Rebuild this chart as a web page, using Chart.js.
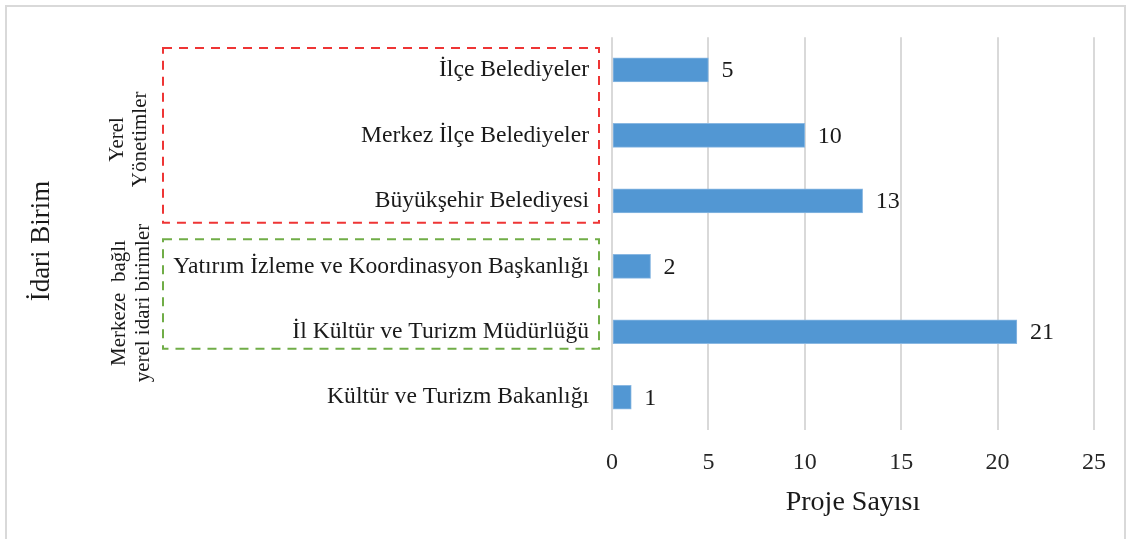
<!DOCTYPE html>
<html lang="tr">
<head>
<meta charset="utf-8">
<title>Proje Sayısı - İdari Birim</title>
<script src="https://cdn.jsdelivr.net/npm/chart.js@4.4.1/dist/chart.umd.min.js"></script>
<style>
    html, body { margin: 0; padding: 0; background: #ffffff; overflow: hidden; }
    .wrap { position: relative; width: 1129px; height: 539px; overflow: hidden; }
    .frame { position: absolute; left: 5px; top: 5px; width: 1117px; height: 540px; border: 2px solid #d9d9d9; pointer-events: none; }
    canvas { position: absolute; left: 0; top: 0; }
</style>
</head>
<body>
<div class="wrap">
    <canvas id="grafik" width="1129" height="539"></canvas>
    <div class="frame"></div>
</div>
<script>
// Veriler
const kategoriler = [
    "İlçe Belediyeler",
    "Merkez İlçe Belediyeler",
    "Büyükşehir Belediyesi",
    "Yatırım İzleme ve Koordinasyon Başkanlığı",
    "İl Kültür ve Turizm Müdürlüğü",
    "Kültür ve Turizm Bakanlığı"
];
const projeSayisi = [5, 10, 13, 2, 21, 1];
const xMin = 0, xMax = 25, xAdim = 5;
const grupYerel = ["Yerel", "Yönetimler"];
const grupMerkez = ["Merkeze  bağlı", "yerel idari birimler"];
const eksenX = "Proje Sayısı";
const eksenY = "İdari Birim";

const YAZI = "'Liberation Serif', 'Times New Roman', serif";
const SOL = 612; // çizim alanının sol kenarı

/* ---------- değer etiketleri ---------- */
const degerEtiketi = {
    id: "degerEtiketi",
    afterDatasetsDraw(chart) {
        const { ctx } = chart;
        const ds = chart.data.datasets[0];
        ctx.save();
        ctx.font = "24px " + YAZI;
        ctx.fillStyle = "#1a1a1a";
        ctx.textAlign = "left";
        ctx.textBaseline = "middle";
        chart.getDatasetMeta(0).data.forEach((bar, i) => {
            ctx.fillText(String(ds.data[i]), bar.x + 13, bar.y + 1);
        });
        ctx.restore();
    }
};

/* ---------- gruplar: kesikli kutular + dikey yazılar ---------- */
function dikeyYaz(ctx, satirlar, x, y, aralik) {
    satirlar.forEach((s, i) => {
        ctx.save();
        ctx.translate(x + i * aralik, y);
        ctx.rotate(-Math.PI / 2);
        ctx.fillText(s, 0, 0);
        ctx.restore();
    });
}

const gruplar = {
    id: "gruplar",
    afterDraw(chart) {
        const { ctx, chartArea } = chart;
        const y = chart.scales.y;
        const sol = chartArea.left - 449, sag = chartArea.left - 13;

        ctx.save();
        ctx.lineWidth = 2;
        ctx.setLineDash([9, 7]);

        ctx.strokeStyle = "#ee3535";
        const kTop = y.getPixelForValue(0) - 22, kAlt = y.getPixelForValue(2) + 22;
        ctx.strokeRect(sol, kTop, sag - sol, kAlt - kTop);

        ctx.strokeStyle = "#70ad47";
        const yTop = y.getPixelForValue(3) - 27, yAlt = y.getPixelForValue(4) + 17;
        ctx.strokeRect(sol, yTop, sag - sol, yAlt - yTop);
        ctx.restore();

        ctx.save();
        ctx.fillStyle = "#1a1a1a";
        ctx.textAlign = "center";
        ctx.textBaseline = "middle";
        ctx.font = "21px " + YAZI;
        dikeyYaz(ctx, grupYerel, 117, (kTop + kAlt) / 2 + 4, 23);
        dikeyYaz(ctx, grupMerkez, 119, (y.getPixelForValue(3) + y.getPixelForValue(4)) / 2 + 4, 24);

        ctx.font = "27px " + YAZI;
        dikeyYaz(ctx, [eksenY], 42, 241, 0);
        ctx.restore();
    }
};

new Chart(document.getElementById("grafik"), {
    type: "bar",
    data: {
        labels: kategoriler,
        datasets: [{
            data: projeSayisi,
            backgroundColor: "#5297d3",
            borderColor: "#8ab8e2",
            borderWidth: 1,
            borderSkipped: false,
            barThickness: 24
        }]
    },
    options: {
        indexAxis: "y",
        responsive: false,
        animation: false,
        layout: { padding: { top: 33, right: 35, left: 0, bottom: 0 } },
        plugins: {
            legend: { display: false },
            tooltip: { enabled: false }
        },
        scales: {
            x: {
                min: xMin,
                max: xMax,
                ticks: {
                    stepSize: xAdim,
                    padding: 18,
                    color: "#262626",
                    font: { family: YAZI, size: 24 }
                },
                grid: { color: "#d9d9d9", lineWidth: 2, drawTicks: false },
                border: { display: false },
                title: {
                    display: true,
                    text: eksenX,
                    color: "#1a1a1a",
                    font: { family: YAZI, size: 28 },
                    padding: { top: 0, bottom: 20 }
                },
                afterFit(scale) { scale.height = 109; }
            },
            y: {
                grid: { display: false, drawTicks: false },
                border: { display: false },
                ticks: {
                    padding: 23,
                    color: "#1a1a1a",
                    font: { family: YAZI, size: 23.6 }
                },
                afterFit(scale) { scale.width = SOL; }
            }
        }
    },
    plugins: [degerEtiketi, gruplar]
});
</script>
</body>
</html>
